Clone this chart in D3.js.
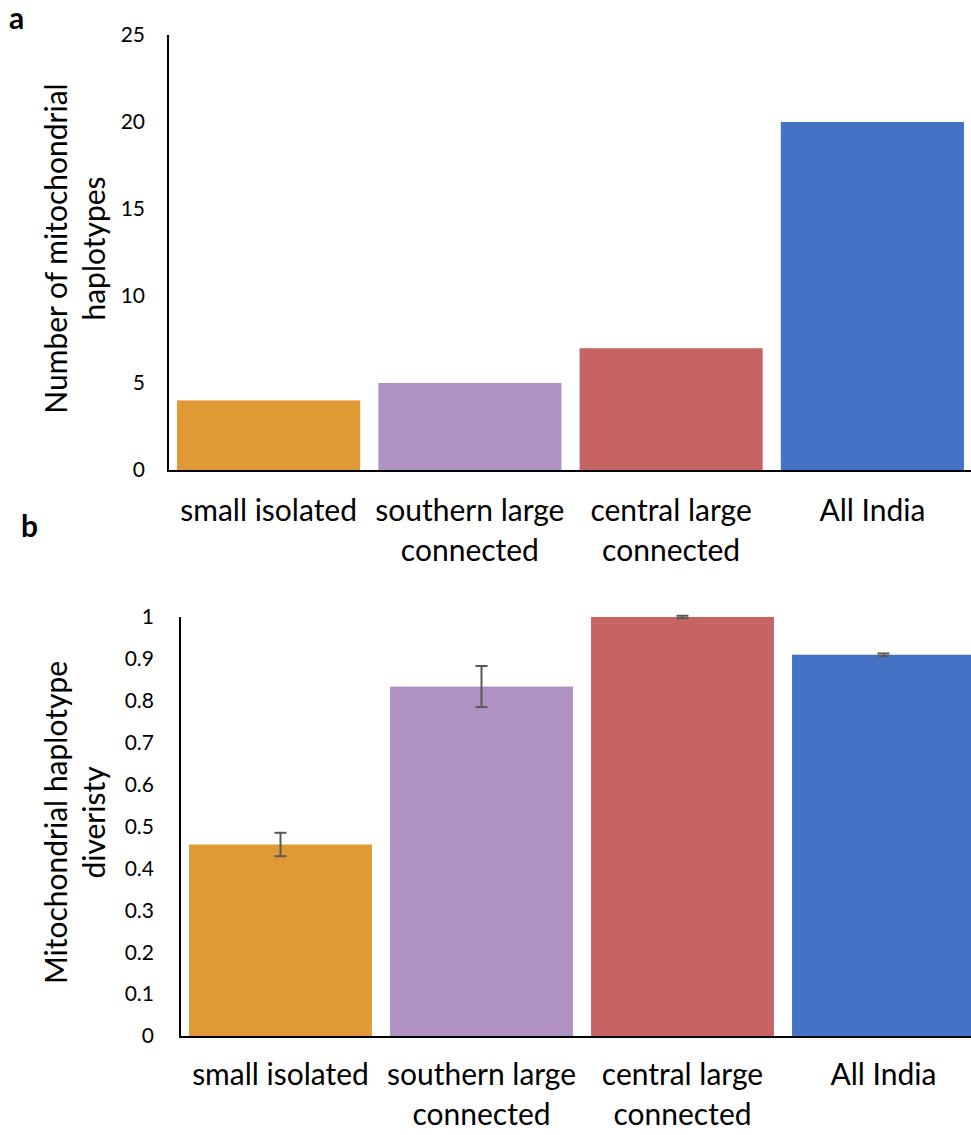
<!DOCTYPE html>
<html>
<head>
<meta charset="utf-8">
<script src="https://cdn.jsdelivr.net/npm/d3@7"></script>
<style>
  body { margin: 0; background: #fff; }
  svg text { font-family: Lato, "Open Sans", sans-serif; fill: #000; }
</style>
</head>
<body>
<svg id="chart" width="971" height="1135"></svg>
<script>
// categories (two-line labels)
const categories = ["small isolated", "southern large connected", "central large connected", "All India"];
const catLines = [["small isolated"], ["southern large", "connected"], ["central large", "connected"], ["All India"]];
const barColors = ["#E09A35", "#AF92C3", "#C66464", "#4472C4"];

// panel a: number of haplotypes
const haplotypeCounts = [4, 5, 7, 20];
const ticksA = [0, 5, 10, 15, 20, 25];

// panel b: haplotype diversity with error
const diversity = [0.457, 0.834, 1.0, 0.910];
const diversityErr = [0.028, 0.049, 0.003, 0.003];
const ticksB = [0, 0.1, 0.2, 0.3, 0.4, 0.5, 0.6, 0.7, 0.8, 0.9, 1];

const svg = d3.select('#chart');

function drawPanel(opts) {
    const g = svg.append('g');
    const x = d3.scaleBand().domain(categories).range([opts.left, opts.right]).paddingInner(0.09).paddingOuter(0.045);
    const y = d3.scaleLinear().domain([0, opts.max]).range([opts.bottom, opts.top]);

    // bars
    g.selectAll('.bar')
        .data(opts.values)
        .enter()
        .append('rect')
        .attr('x', (d, i) => x(categories[i]))
        .attr('width', x.bandwidth())
        .attr('y', d => y(d))
        .attr('height', d => opts.bottom - y(d))
        .attr('fill', (d, i) => barColors[i]);

    // error bars
    if (opts.errors) {
        const eb = g.selectAll('.err')
            .data(opts.values)
            .enter()
            .append('g')
            .attr('stroke', '#595959')
            .attr('stroke-width', 2);
        eb.append('line')
            .attr('x1', (d, i) => x(categories[i]) + x.bandwidth() / 2)
            .attr('x2', (d, i) => x(categories[i]) + x.bandwidth() / 2)
            .attr('y1', (d, i) => y(d - opts.errors[i]))
            .attr('y2', (d, i) => y(d + opts.errors[i]));
        [-1, 1].forEach(s => {
            eb.append('line')
                .attr('x1', (d, i) => x(categories[i]) + x.bandwidth() / 2 - 6)
                .attr('x2', (d, i) => x(categories[i]) + x.bandwidth() / 2 + 6)
                .attr('y1', (d, i) => y(d + s * opts.errors[i]))
                .attr('y2', (d, i) => y(d + s * opts.errors[i]));
        });
    }

    // axes lines
    g.append('line')
        .attr('x1', opts.left).attr('x2', opts.left)
        .attr('y1', opts.top).attr('y2', opts.bottom + 1)
        .attr('stroke', '#000').attr('stroke-width', 2);
    g.append('line')
        .attr('x1', opts.left - 1).attr('x2', 971)
        .attr('y1', opts.bottom + 1).attr('y2', opts.bottom + 1)
        .attr('stroke', '#000').attr('stroke-width', 2);

    // tick labels
    g.selectAll('.tick')
        .data(opts.ticks)
        .enter()
        .append('text')
        .attr('x', opts.left - opts.tickGap)
        .attr('y', d => y(d))
        .attr('dy', '0.35em')
        .attr('text-anchor', 'end')
        .style('font-size', '21px')
        .text(d => d);

    // category labels
    catLines.forEach((lines, i) => {
        lines.forEach((ln, j) => {
            g.append('text')
                .attr('x', x(categories[i]) + x.bandwidth() / 2)
                .attr('y', opts.catY + j * 40)
                .attr('text-anchor', 'middle')
                .style('font-size', '30px')
                .text(ln);
        });
    });

    // y title
    const cy = (opts.top + opts.bottom) / 2 - 4;
    opts.title.forEach((ln, j) => {
        g.append('text')
            .attr('transform', `translate(${67 + j * 38}, ${cy}) rotate(-90)`)
            .attr('text-anchor', 'middle')
            .style('font-size', '30px')
            .text(ln);
    });

    // panel letter
    g.append('text')
        .attr('x', opts.letterX).attr('y', opts.letterY)
        .style('font-size', '30px')
        .style('font-weight', 'bold')
        .text(opts.letter);
}

drawPanel({
    values: haplotypeCounts, ticks: ticksA, max: 25,
    left: 168, right: 973, top: 35, bottom: 470,
    tickGap: 23, catY: 521,
    title: ["Number of mitochondrial", "haplotypes"],
    letter: "a", letterX: 9, letterY: 29
});

drawPanel({
    values: diversity, errors: diversityErr, ticks: ticksB, max: 1,
    left: 180, right: 984, top: 617, bottom: 1036,
    tickGap: 26, catY: 1085,
    title: ["Mitochondrial haplotype", "diveristy"],
    letter: "b", letterX: 21, letterY: 537
});
</script>
</body>
</html>
